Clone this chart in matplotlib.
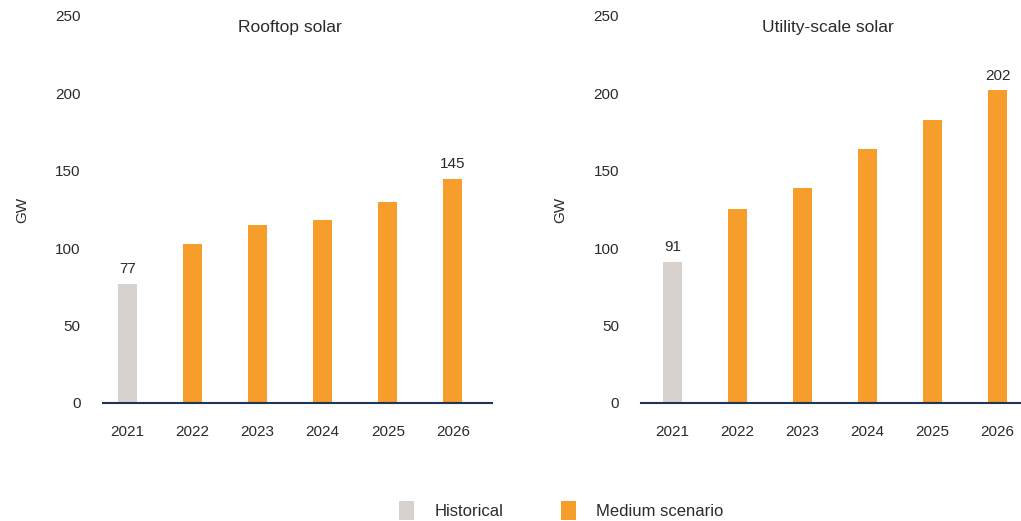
import matplotlib.pyplot as plt
from matplotlib.patches import Patch

years = ['2021', '2022', '2023', '2024', '2025', '2026']
rooftop = [77, 103, 115, 118, 130, 145]
utility = [91, 125, 139, 164, 183, 202]
hist_count = 1  # first year is historical

grey = '#D8D2CE'
orange = '#F79D2B'
navy = '#1F3552'
txt = '#2B2B2B'

plt.rcParams['font.family'] = ['Liberation Sans', 'DejaVu Sans']

fig = plt.figure(figsize=(10.21, 5.21), dpi=100)
ax1 = fig.add_axes([0.1009, 0.2265, 0.381, 0.7428])
ax2 = fig.add_axes([0.628, 0.2265, 0.381, 0.7428])


def draw(ax, values, title, labelled, xlim):
    x = range(len(years))
    colors = [grey if i < hist_count else orange for i in x]
    ax.bar(x, values, width=0.29, color=colors, zorder=2)
    ax.set_ylim(0, 250)
    ax.set_xlim(*xlim)
    ax.set_yticks([0, 50, 100, 150, 200, 250])
    ax.set_xticks(list(x))
    ax.set_xticklabels(years)
    ax.tick_params(axis='both', length=0, labelsize=11, colors=txt)
    ax.tick_params(axis='x', pad=16)
    ax.tick_params(axis='y', pad=16)
    for s in ['top', 'right', 'left']:
        ax.spines[s].set_visible(False)
    ax.spines['bottom'].set_color(navy)
    ax.spines['bottom'].set_linewidth(1.5)
    ax.set_ylabel('GW', fontsize=11, color=txt, labelpad=19)
    ax.text(0.48, 0.97, title, transform=ax.transAxes, ha='center', va='center',
            fontsize=12.5, color=txt)
    for i in labelled:
        ax.text(i, values[i] + 5, str(values[i]), ha='center', va='bottom',
                fontsize=11, color=txt)


draw(ax1, rooftop, 'Rooftop solar', [0, 5], (-0.37, 5.6))
draw(ax2, utility, 'Utility-scale solar', [0, 5], (-0.48, 5.5))

handles = [Patch(facecolor=grey, label='Historical'),
           Patch(facecolor=orange, label='Medium scenario')]
fig.legend(handles=handles, loc='center', bbox_to_anchor=(0.55, 0.02), ncol=2,
           frameon=False, fontsize=12, handlelength=0.9, handleheight=1.4,
           columnspacing=3.5, handletextpad=1.2, labelcolor=txt)

fig.savefig('out.png', dpi=100)
